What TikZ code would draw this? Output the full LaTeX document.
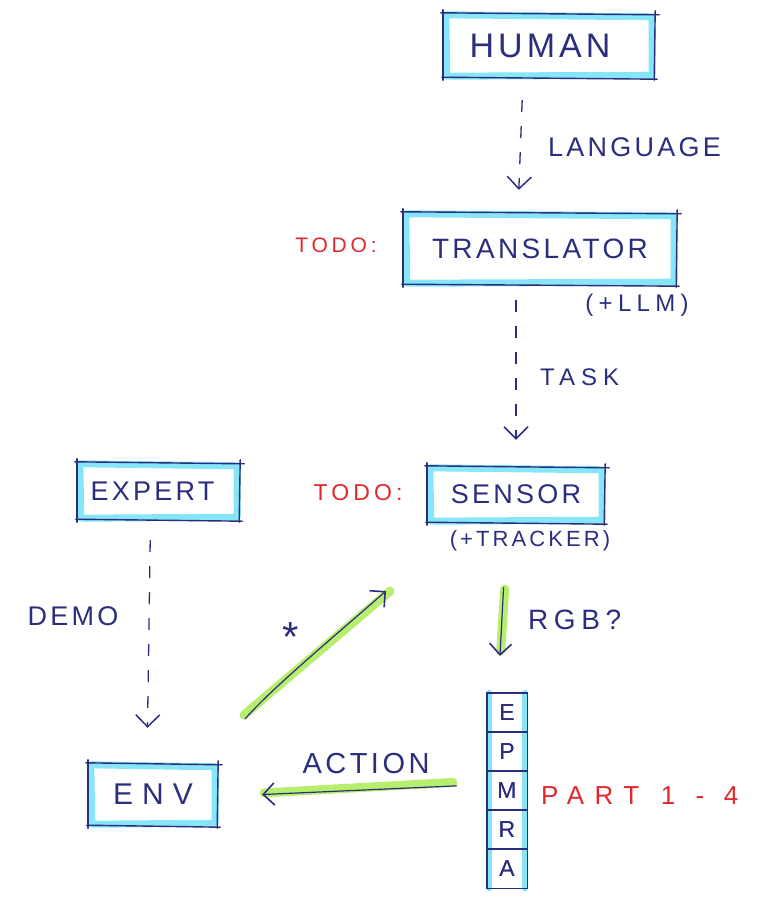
\documentclass[tikz,border=0pt]{standalone}
\usepackage{fontspec}
\setmainfont{Liberation Sans}
\usetikzlibrary{arrows.meta,calc}
\definecolor{ink}{HTML}{2B2E7E}
\definecolor{hlc}{HTML}{86E5F7}
\definecolor{hlg}{HTML}{B8EE6E}
\definecolor{redink}{HTML}{E3262B}
\newcommand\hw[3]{\fontsize{#1}{#1}\selectfont\addfontfeature{LetterSpace=#2}#3}
\tikzset{
 box/.style={inner sep=0pt, text=ink},
 cell/.style={inner sep=0pt, text=ink, minimum width=40pt, minimum height=39pt, font=\fontsize{23}{23}\selectfont},
 lbl/.style={inner sep=0pt, text=ink},
 todo/.style={inner sep=0pt, text=redink},
 cyanhl/.style={draw=hlc, line width=7pt, line cap=round, line join=round},
 inkline/.style={draw=ink, line width=1.4pt, line cap=round},
 dasharrow/.style={draw=ink, line width=1.3pt, dash pattern=on 12pt off 14pt, -{Straight Barb[length=12pt,width=24pt,line width=1.5pt]}},
 greenhl/.style={draw=hlg, line width=9pt, line cap=round},
 greenarrow/.style={draw=ink, line width=1.2pt, -{Straight Barb[length=11pt,width=22pt,line width=1.6pt]}},
}
\newcommand\sketchbox[1]{%
 \draw[cyanhl] ([shift={(3,2)}]#1.north west) -- ([shift={(-3,4)}]#1.north east) -- ([shift={(-3,-3)}]#1.south east) -- ([shift={(4,-2)}]#1.south west) -- cycle;
 \draw[inkline] ([shift={(-2,0)}]#1.north west) -- ([shift={(4,2)}]#1.north east);
 \draw[inkline] ([shift={(0,-2)}]#1.north east) -- ([shift={(-1,2)}]#1.south east);
 \draw[inkline] ([shift={(2,1)}]#1.south east) -- ([shift={(-1,-1)}]#1.south west);
 \draw[inkline] ([shift={(0,2)}]#1.south west) -- ([shift={(0,-3)}]#1.north west);
}
\newcommand\sketchcell[1]{%
 \draw[inkline] (#1.north west) rectangle (#1.south east);
}
\begin{document}
\begin{tikzpicture}[x=1pt,y=-1pt]
\useasboundingbox (0,0) rectangle (763,908);
% nodes
\node[box, minimum width=212pt, minimum height=65pt] (human) at (549,45.5) {\hspace*{-18pt}\hw{34}{12}{HUMAN}};
\node[box, minimum width=274pt, minimum height=73pt] (translator) at (540,248.5) {\hw{28}{12}{TRANSLATOR}};
\node[box, minimum width=178pt, minimum height=57pt] (sensor) at (516,494.5) {\hw{27}{12}{SENSOR}};
\node[box, minimum width=163pt, minimum height=58pt] (expert) at (158.5,491) {\hspace*{-12pt}\hw{27}{12}{EXPERT}};
\node[box, minimum width=130pt, minimum height=63pt] (env) at (153,794.5) {\hw{30}{30}{ENV}};
\node[cell] (e) at (507,712.5) {E};
\node[cell] (p) at (507,751.5) {P};
\node[cell] (m) at (507,790.5) {M};
\node[cell] (r) at (507,829.5) {R};
\node[cell] (a) at (507,868.5) {A};
% column highlight
\draw[draw=hlc, line width=6pt, line cap=round] ([shift={(2,0)}]e.north west) -- ([shift={(2,0)}]a.south west);
\draw[draw=hlc, line width=6pt, line cap=round] ([shift={(-2,0)}]e.north east) -- ([shift={(-2,0)}]a.south east);
\node[cell] at (e) {E};
\node[cell] at (p) {P};
\node[cell] at (m) {M};
\node[cell] at (r) {R};
\node[cell] at (a) {A};
\foreach \c in {e,p,m,r,a}{\sketchcell{\c}}
\sketchbox{human}
\sketchbox{translator}
\sketchbox{sensor}
\sketchbox{expert}
\sketchbox{env}
% labels
\node[lbl, anchor=west] (llang) at (548,147) {\hw{27}{12}{LANGUAGE}};
\node[todo] (todo1) at (336,245) {\hw{21}{18}{TODO:}};
\node[lbl] (llm) at (637,305) {\hw{24}{22}{(+LLM)}};
\node[lbl, anchor=west] (ltask) at (540,377) {\hw{24}{25}{TASK}};
\node[todo] (todo2) at (358,493) {\hw{23}{18}{TODO:}};
\node[lbl] (tracker) at (530,541) {\hw{22}{14}{(+TRACKER)}};
\node[lbl] (ldemo) at (73,616) {\hw{27}{12}{DEMO}};
\node[lbl] (star) at (291,637) {\hw{42}{0}{*}};
\node[lbl, anchor=west] (lrgb) at (528,620) {\hw{28}{20}{RGB?}};
\node[lbl] (laction) at (366,764) {\hw{29}{12}{ACTION}};
\node[todo, anchor=base west] (lpart) at (541,804) {\hw{26}{40}{PART}};
\node[todo, anchor=base] (lpart1) at (668,804) {\hw{26}{0}{1}};
\node[todo, anchor=base] (lpartd) at (700,804) {\hw{26}{0}{-}};
\node[todo, anchor=base] (lpart4) at (731,804) {\hw{26}{0}{4}};
% dashed connectors
\draw[dasharrow, shorten <=22pt, shorten >=22pt] ([xshift=-26]human.south) -- ([xshift=-22]translator.north);
\draw[dasharrow, shorten <=15pt, shorten >=26pt] (translator.south -| sensor.north) -- (sensor.north);
\draw[dasharrow, shorten <=20pt, shorten >=35pt] ([xshift=-8]expert.south) -- ([xshift=-6]env.north);
% green arrows
\coordinate (dstart) at (245,719);
\coordinate (dend) at (386,591);
\draw[greenhl] ([shift={(-1,-4)}]dstart) -- ([shift={(4,0)}]dend);
\draw[greenarrow] (dstart) .. controls (270,690) and (330,640) .. (dend);
\draw[greenhl, shorten <=66pt, shorten >=42pt] ([xshift=-7]sensor.south) -- ([xshift=-9]e.north);
\draw[greenarrow, shorten <=64pt, shorten >=37pt] ([xshift=-9]sensor.south) -- ([xshift=-9]e.north);
\draw[greenhl, shorten <=34pt, shorten >=46pt] ([yshift=10]m.west) -- ([yshift=-1]env.east);
\draw[greenarrow, shorten <=30pt, shorten >=44pt] ([yshift=6]m.west) -- ([yshift=-2]env.east);
\end{tikzpicture}
\end{document}
